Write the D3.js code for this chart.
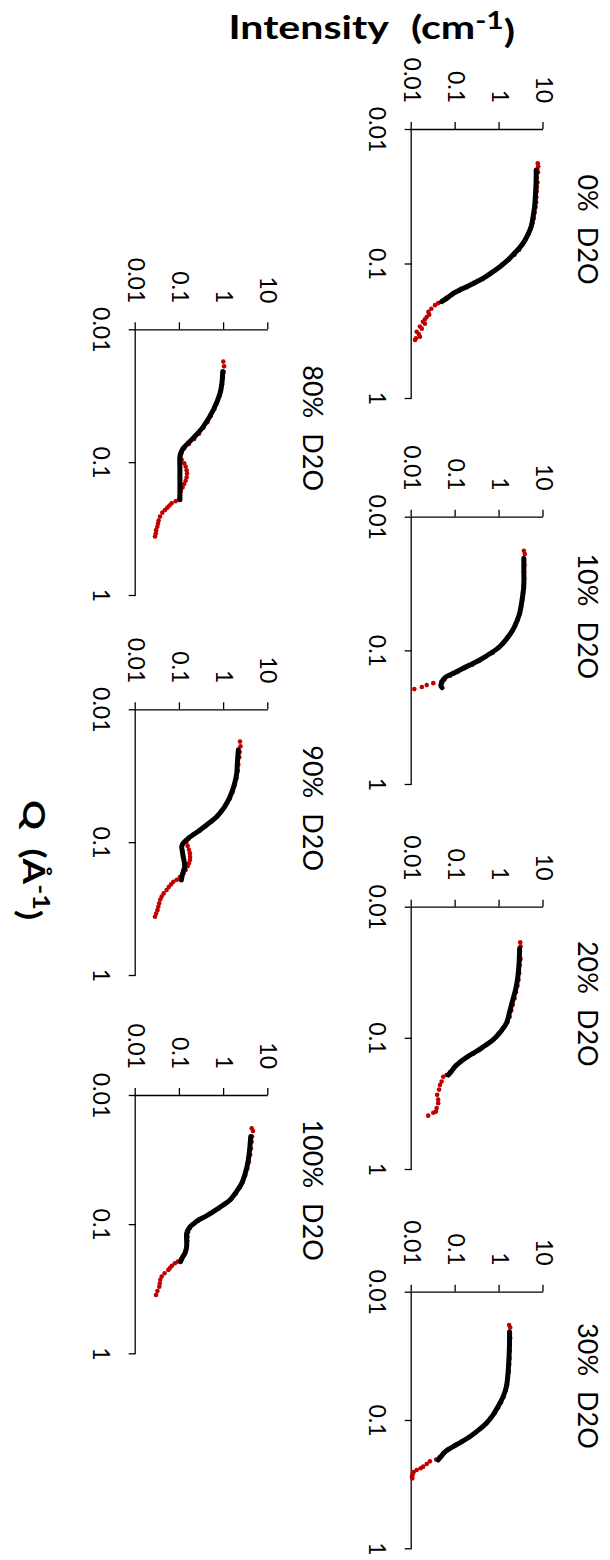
<!DOCTYPE html>
<html>
<head>
<meta charset="utf-8">
<script src="https://cdn.jsdelivr.net/npm/d3@7"></script>
<style>
body { margin: 0; background: #fff; }
text { font-family: Lato, "Open Sans", sans-serif; fill: #000; }
</style>
</head>
<body>
<div class="central"></div>
<script>
//Tick labels and panel names
var qTicks = [0.01, 0.1, 1];
var intensityTicks = [0.01, 0.1, 1, 10];
var panelTitles = ["0%\u3000D2O", "10%\u3000D2O", "20%\u3000D2O", "30%\u3000D2O",
	"80%\u3000D2O", "90%\u3000D2O", "100%\u3000D2O"];

//Measured points [Q, intensity] (red) and fitted curves (black)
var red0 = [[0.018,7.4],[0.019,7.6],[0.020,7.2],[0.021,7.5],[0.023,7.0],[0.025,7.3],[0.027,7.1],[0.029,7.0],
	[0.032,6.9],[0.035,6.8],[0.038,6.6],[0.042,6.3],[0.046,6.0],[0.050,5.6],[0.055,5.1],[0.060,4.6],[0.066,3.9],
	[0.072,3.3],[0.079,2.8],[0.086,2.2],[0.094,1.6],[0.102,1.15],[0.11,0.85],[0.12,0.6],[0.13,0.42],[0.14,0.27],
	[0.15,0.18],[0.16,0.12],[0.17,0.085],[0.18,0.062],[0.19,0.05],[0.197,0.04],[0.204,0.034],[0.217,0.028],
	[0.229,0.024],[0.24,0.025],[0.25,0.022],[0.26,0.02],[0.271,0.018],[0.28,0.02],[0.294,0.0154],[0.305,0.017],
	[0.322,0.013],[0.335,0.0145],[0.35,0.0154],[0.36,0.0125],[0.37,0.0119]];
var fit0 = [[0.0202,6.8],[0.024,6.8],[0.030,6.6],[0.038,6.25],[0.045,5.8],[0.053,5.25],[0.062,4.3],[0.071,3.4],
	[0.078,2.7],[0.0865,2.0],[0.096,1.45],[0.106,1.0],[0.117,0.66],[0.129,0.42],[0.139,0.27],[0.149,0.177],
	[0.158,0.12],[0.167,0.088],[0.18,0.065],[0.192,0.048]];

var red1 = [[0.018,3.57],[0.019,3.75],[0.021,3.6],[0.023,3.7],[0.026,3.6],[0.029,3.65],[0.033,3.5],[0.037,3.4],
	[0.042,3.3],[0.047,3.1],[0.053,2.9],[0.059,2.6],[0.066,2.25],[0.073,1.85],[0.08,1.5],[0.088,1.2],[0.096,0.95],
	[0.104,0.7],[0.112,0.48],[0.12,0.34],[0.128,0.24],[0.136,0.16],[0.145,0.11],[0.155,0.075],[0.165,0.056],
	[0.172,0.047],[0.176,0.031],[0.182,0.022],[0.188,0.017],[0.195,0.0115]];
var fit1 = [[0.0205,3.57],[0.025,3.57],[0.0334,3.55],[0.042,3.25],[0.0528,2.86],[0.062,2.4],[0.0703,2.0],
	[0.082,1.45],[0.094,1.0],[0.106,0.6],[0.118,0.354],[0.127,0.23],[0.136,0.148],[0.147,0.095],[0.157,0.062],
	[0.166,0.052],[0.176,0.048],[0.184,0.046],[0.19,0.049]];

var red2 = [[0.0187,2.95],[0.02,3.0],[0.022,2.9],[0.025,3.0],[0.028,2.85],[0.032,2.8],[0.036,2.7],[0.04,2.55],
	[0.045,2.35],[0.05,2.2],[0.056,2.0],[0.062,1.85],[0.069,1.7],[0.076,1.5],[0.084,1.2],[0.093,0.95],[0.102,0.74],
	[0.112,0.52],[0.122,0.36],[0.132,0.25],[0.142,0.17],[0.152,0.13],[0.162,0.102],[0.172,0.088],[0.182,0.075],
	[0.192,0.062],[0.198,0.052],[0.215,0.048],[0.229,0.044],[0.248,0.042],[0.272,0.038],[0.296,0.04],
	[0.315,0.04],[0.343,0.037],[0.365,0.0356],[0.372,0.031],[0.392,0.0238]];
var fit2 = [[0.0208,2.86],[0.026,2.8],[0.0342,2.61],[0.042,2.35],[0.0514,2.0],[0.063,1.7],[0.0774,1.43],
	[0.09,1.05],[0.1038,0.708],[0.115,0.46],[0.127,0.298],[0.137,0.2],[0.147,0.148],[0.157,0.115],
	[0.166,0.096],[0.18,0.08],[0.192,0.0676]];

var red3 = [[0.0182,1.65],[0.019,1.75],[0.021,1.7],[0.023,1.75],[0.026,1.72],[0.029,1.7],[0.033,1.68],[0.037,1.66],
	[0.042,1.62],[0.047,1.55],[0.053,1.48],[0.059,1.38],[0.066,1.25],[0.073,1.08],[0.08,0.93],[0.088,0.78],
	[0.097,0.62],[0.106,0.5],[0.116,0.38],[0.126,0.28],[0.136,0.2],[0.147,0.14],[0.158,0.095],[0.17,0.066],
	[0.182,0.052],[0.195,0.043],[0.203,0.036],[0.21,0.026],[0.22,0.022],[0.231,0.0183],[0.238,0.016],
	[0.245,0.013],[0.255,0.011],[0.265,0.0105],[0.275,0.0102],[0.285,0.0103]];
var fit3 = [[0.0205,1.69],[0.026,1.68],[0.034,1.63],[0.044,1.55],[0.055,1.43],[0.066,1.2],[0.0787,0.92],
	[0.092,0.7],[0.106,0.5],[0.12,0.33],[0.135,0.21],[0.148,0.135],[0.161,0.0877],[0.175,0.06],[0.19,0.048],
	[0.205,0.040]];

var red4 = [[0.0175,0.96],[0.019,1.0],[0.021,0.98],[0.023,0.93],[0.026,0.9],[0.029,0.85],[0.032,0.78],[0.036,0.68],
	[0.04,0.6],[0.045,0.5],[0.05,0.42],[0.055,0.34],[0.061,0.27],[0.067,0.21],[0.073,0.16],[0.079,0.125],
	[0.085,0.11],[0.09,0.104],[0.096,0.11],[0.102,0.125],[0.108,0.135],[0.115,0.142],[0.122,0.145],[0.13,0.142],
	[0.138,0.135],[0.146,0.125],[0.155,0.115],[0.165,0.105],[0.178,0.1],[0.19,0.095],[0.197,0.08],[0.204,0.065],
	[0.212,0.058],[0.22,0.052],[0.229,0.046],[0.24,0.04],[0.257,0.0355],[0.275,0.033],[0.29,0.032],
	[0.306,0.0308],[0.325,0.029],[0.345,0.0285],[0.363,0.0273]];
var fit4 = [[0.0208,0.93],[0.025,0.9],[0.0303,0.81],[0.0405,0.57],[0.054,0.338],[0.066,0.2],[0.0787,0.119],
	[0.086,0.104],[0.091,0.1],[0.1146,0.1],[0.135,0.1],[0.153,0.1],[0.175,0.1],[0.192,0.1]];

var red5 = [[0.0175,2.29],[0.019,2.35],[0.021,2.25],[0.023,2.2],[0.026,2.1],[0.029,2.05],[0.033,1.9],[0.037,1.75],
	[0.042,1.55],[0.047,1.35],[0.052,1.1],[0.058,0.88],[0.064,0.7],[0.07,0.52],[0.076,0.38],[0.082,0.28],
	[0.088,0.2],[0.094,0.16],[0.1,0.14],[0.107,0.15],[0.114,0.16],[0.121,0.168],[0.129,0.17],[0.136,0.169],
	[0.144,0.16],[0.152,0.15],[0.162,0.135],[0.172,0.12],[0.183,0.1],[0.192,0.085],[0.199,0.071],[0.208,0.063],
	[0.218,0.056],[0.229,0.05],[0.243,0.043],[0.257,0.0387],[0.27,0.036],[0.288,0.034],[0.306,0.0325],
	[0.325,0.031],[0.345,0.029],[0.364,0.0273]];
var fit5 = [[0.0202,2.1],[0.025,2.0],[0.0303,1.93],[0.037,1.7],[0.0455,1.36],[0.055,1.0],[0.0643,0.68],
	[0.072,0.45],[0.081,0.285],[0.0935,0.155],[0.102,0.118],[0.108,0.11],[0.118,0.114],[0.129,0.119],
	[0.14,0.125],[0.153,0.128],[0.165,0.12],[0.18,0.112],[0.193,0.108]];

var red6 = [[0.0181,4.21],[0.019,4.5],[0.021,4.3],[0.023,4.2],[0.026,4.05],[0.029,3.9],[0.033,3.65],[0.037,3.35],
	[0.042,3.0],[0.047,2.65],[0.052,2.25],[0.058,1.85],[0.064,1.45],[0.07,1.05],[0.076,0.75],[0.082,0.52],
	[0.088,0.36],[0.094,0.26],[0.1,0.2],[0.107,0.17],[0.115,0.155],[0.125,0.15],[0.135,0.148],[0.145,0.145],
	[0.155,0.14],[0.165,0.132],[0.177,0.118],[0.188,0.105],[0.195,0.09],[0.201,0.077],[0.21,0.066],
	[0.218,0.06],[0.226,0.0547],[0.24,0.045],[0.254,0.0387],[0.27,0.036],[0.288,0.035],[0.305,0.0342],
	[0.33,0.031],[0.354,0.0288]];
var fit6 = [[0.021,4.0],[0.026,3.8],[0.0318,3.53],[0.039,3.1],[0.0483,2.5],[0.056,1.9],[0.065,1.36],[0.072,0.9],
	[0.08,0.57],[0.087,0.38],[0.093,0.26],[0.1,0.2],[0.1047,0.169],[0.118,0.142],[0.133,0.142],[0.149,0.142],
	[0.168,0.13],[0.18,0.115],[0.195,0.104]];

var redSets = [red0, red1, red2, red3, red4, red5, red6];
var fitSets = [fit0, fit1, fit2, fit3, fit4, fit5, fit6];

//Layout: the chart is laid out landscape and turned a quarter turn clockwise
var width = 610,
	height = 1560;
var qRanges = [[129,398],[516.7,784],[906.7,1169],[1291.7,1548.3],[329.3,595],[709.3,975],[1095,1353.3]];
var rowIntensity = [[198.3,66.5],[474.3,341.7]];
var rowTitleBase = [32, 307];

var svg = d3.select(".central")
			.append("svg")
			.attr("width", width)
			.attr("height", height);

var g = svg.append("g")
			.attr("transform", "translate(" + width + ",0) rotate(90)");

//write a label where the wide space is its own smaller tspan
var spacedText = function(sel, txt, spaceSize){
	var parts = txt.split("\u3000");
	parts.forEach(function(p, i){
		if(i > 0) sel.append("tspan").style("font-size", spaceSize + "px").text("\u3000");
		sel.append("tspan").text(p);
	});
};

//stretch a text along its own direction so it spans the wanted length
var fitLength = function(sel, base, target){
	var w = sel.node().getBBox().width;
	sel.attr("transform", base + " scale(" + (target / w) + ",1)");
};

panelTitles.forEach(function(title, i){
	var row = i < 4 ? 0 : 1;
	var x = d3.scaleLog().domain([0.01, 1]).range(qRanges[i]);
	var y = d3.scaleLog().domain([0.01, 10]).range(rowIntensity[row]);

	var panel = g.append("g");

	panel.append("g")
		.attr("transform", "translate(0," + y(0.01) + ")")
		.call(d3.axisBottom(x).tickValues(qTicks).tickFormat(function(d){ return String(d); })
			.tickSize(7).tickSizeOuter(0).tickPadding(19));
	panel.append("g")
		.attr("transform", "translate(" + x(0.01) + ",0)")
		.call(d3.axisLeft(y).tickValues(intensityTicks).tickFormat(function(d){ return String(d); })
			.tickSize(7).tickSizeOuter(0).tickPadding(19));
	panel.selectAll(".domain, .tick line").style("stroke", "#000").style("stroke-width", 1.3);
	panel.selectAll(".tick text").style("font-family", "Lato, sans-serif").style("font-size", "23px");

	panel.selectAll("circle")
		.data(redSets[i])
		.enter()
		.append("circle")
		.attr("cx", function(d){ return x(d[0]); })
		.attr("cy", function(d){ return y(d[1]); })
		.attr("r", 2.3)
		.style("fill", "#c00000");

	var line = d3.line()
		.x(function(d){ return x(d[0]); })
		.y(function(d){ return y(d[1]); })
		.curve(d3.curveCatmullRom);
	panel.append("path")
		.datum(fitSets[i])
		.attr("d", line)
		.style("fill", "none")
		.style("stroke", "#000")
		.style("stroke-width", 5)
		.style("stroke-linecap", "round")
		.style("stroke-linejoin", "round");

	var t = panel.append("text")
		.attr("x", (qRanges[i][0] + qRanges[i][1]) / 2 - 34)
		.attr("y", rowTitleBase[row])
		.attr("text-anchor", "middle")
		.style("font-size", "27px");
	spacedText(t, title, 15);
});

//Axis titles
var yTitle = g.append("text")
	.attr("text-anchor", "middle")
	.style("font-size", "33px")
	.style("font-weight", "bold");
spacedText(yTitle, "Intensity\u3000(cm", 18);
yTitle.append("tspan").attr("dy", "-0.45em").style("font-size", "24px").text("-1");
yTitle.append("tspan").attr("dy", "0.45em").text(")");
fitLength(yTitle, "translate(39.3,238.3) rotate(-90)", 287);

var xTitle = g.append("text")
	.attr("text-anchor", "middle")
	.style("font-size", "30px")
	.style("font-weight", "bold");
spacedText(xTitle, "Q\u3000(Å", 15);
xTitle.append("tspan").attr("dy", "-0.45em").style("font-size", "22px").text("-1");
xTitle.append("tspan").attr("dy", "0.45em").text(")");
fitLength(xTitle, "translate(860,587)", 120);
</script>
</body>
</html>
